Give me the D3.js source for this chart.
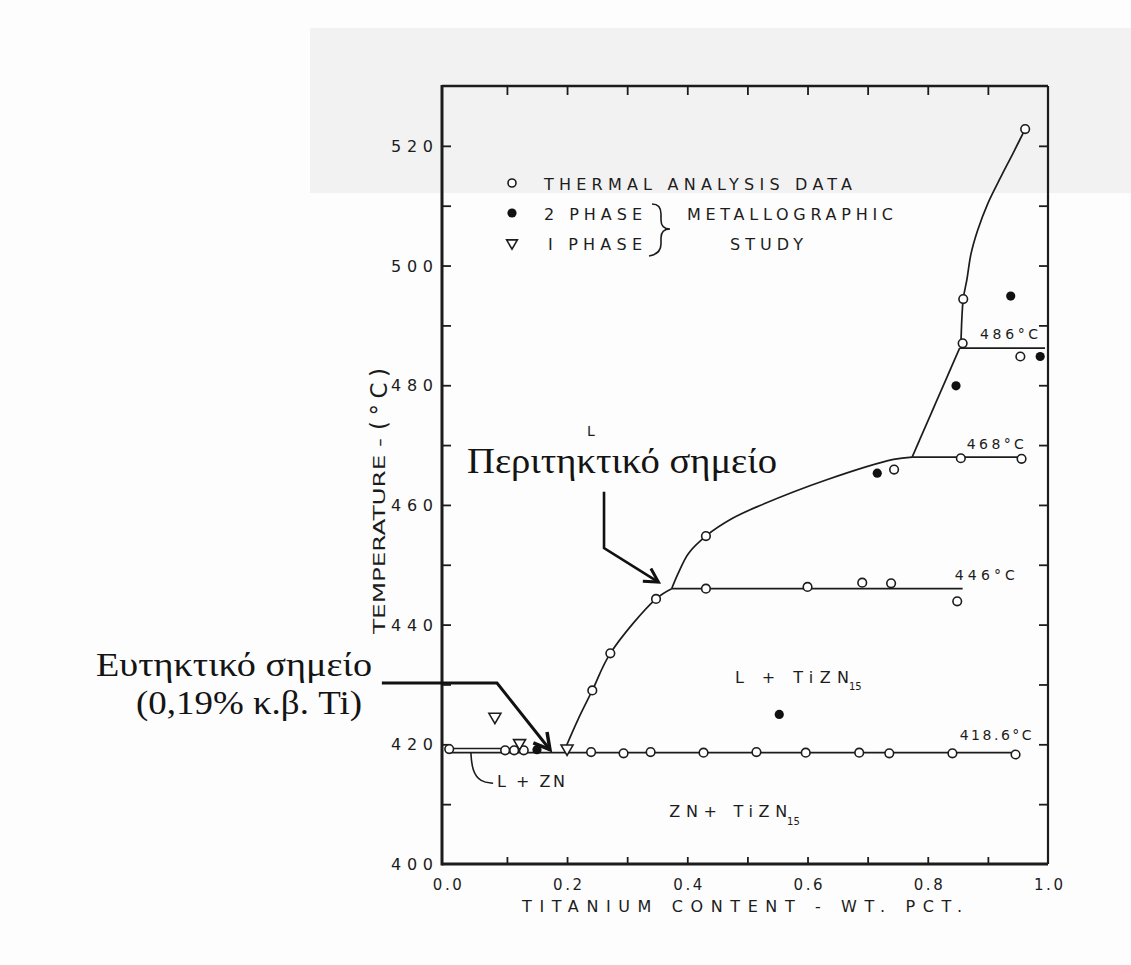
<!DOCTYPE html>
<html>
<head>
<meta charset="utf-8">
<script src="https://cdn.jsdelivr.net/npm/d3@7"></script>
<style>
  body { margin: 0; background: #fdfdfd; }
</style>
</head>
<body>
<div id="chart"></div>
<script>
// ---- data ----
const tempLabels = [400, 420, 440, 460, 480, 500, 520];
const tempTicks = [410, 420, 430, 440, 450, 460, 470, 480, 490, 500, 510, 520];
const tiLabels = [0.0, 0.2, 0.4, 0.6, 0.8, 1.0];
const tiTicks = [0.1, 0.2, 0.3, 0.4, 0.5, 0.6, 0.7, 0.8, 0.9];

// open circles: thermal analysis data
const thermalPoints = [
  [0.004, 419.2], [0.097, 419.0], [0.112, 419.0], [0.128, 419.0],
  [0.240, 418.7], [0.294, 418.5], [0.339, 418.7], [0.427, 418.6],
  [0.515, 418.7], [0.597, 418.6], [0.686, 418.6], [0.736, 418.5],
  [0.841, 418.5], [0.946, 418.3],
  [0.242, 429.0], [0.272, 435.2], [0.348, 444.3], [0.431, 454.8],
  [0.431, 446.0], [0.600, 446.3], [0.691, 447.0], [0.739, 446.9], [0.849, 443.9],
  [0.744, 465.9], [0.855, 467.8], [0.956, 467.7],
  [0.858, 487.0], [0.954, 484.8], [0.859, 494.4], [0.962, 522.8]
];
// filled circles: 2 phase (metallographic)
const twoPhasePoints = [
  [0.150, 419.1], [0.553, 425.0], [0.716, 465.3], [0.847, 479.9], [0.938, 494.9], [0.987, 484.8]
];
// triangles: 1 phase (metallographic)
const onePhasePoints = [[0.080, 424.6], [0.121, 420.2], [0.200, 419.3]];

// phase boundaries
const liquidusLow = [
  [0.197, 419.3], [0.218, 424.1], [0.242, 429.0], [0.272, 435.2], [0.348, 444.3], [0.374, 446.0]
];
const liquidusUpper = [
  [0.374, 446.0], [0.385, 448.6], [0.402, 451.9], [0.431, 454.8], [0.476, 457.8],
  [0.521, 459.9], [0.632, 464.2], [0.743, 467.6], [0.774, 468.0]
];
const liquidusMid = [[0.774, 468.0], [0.853, 486.2]];
const liquidusHigh = [
  [0.855, 486.2], [0.859, 494.4], [0.865, 497.6], [0.872, 502.0], [0.883, 505.9],
  [0.900, 510.4], [0.922, 514.9], [0.942, 518.8], [0.962, 522.8]
];
const zincLiquidus = [[0.0, 419.3], [0.12, 419.3]];
const isotherms = [
  { t: 418.6, from: 0.0, to: 0.946, label: "418.6°C" },
  { t: 446, from: 0.374, to: 0.858, label: "446°C" },
  { t: 468, from: 0.774, to: 0.960, label: "468°C" },
  { t: 486.2, from: 0.853, to: 0.995, label: "486°C" }
];

// ---- layout ----
const width = 1131, height = 965;
const x = d3.scaleLinear().domain([-0.008, 1.0]).range([442, 1048]);
const y = d3.scaleLinear().domain([400, 530]).range([864, 86]);
const ink = "#1c1c1c";
const letterFont = "DejaVu Sans, Liberation Sans, sans-serif";
const greekFont = "Liberation Serif, DejaVu Serif, serif";

const svg = d3.select("#chart").append("svg").attr("width", width).attr("height", height);

// scan background
svg.append("rect").attr("width", width).attr("height", height).attr("fill", "#fdfdfd");
svg.append("rect").attr("x", 310).attr("y", 28).attr("width", width - 310).attr("height", 165).attr("fill", "#f2f2f2");

const line = d3.line().x((d) => x(d[0])).y((d) => y(d[1]));
const smooth = d3.line().x((d) => x(d[0])).y((d) => y(d[1])).curve(d3.curveCatmullRom);

// frame
const [x0, x1] = x.range();
const [yb, yt] = y.range();
svg.append("line").attr("x1", x0).attr("x2", x1).attr("y1", yt).attr("y2", yt).attr("stroke", ink).attr("stroke-width", 2.5);
svg.append("line").attr("x1", x1).attr("x2", x1).attr("y1", yt).attr("y2", yb).attr("stroke", ink).attr("stroke-width", 2.2);
svg.append("line").attr("x1", x0).attr("x2", x0).attr("y1", yt - 1).attr("y2", yb + 1.5).attr("stroke", ink).attr("stroke-width", 3);
svg.append("line").attr("x1", x0).attr("x2", x1).attr("y1", yb).attr("y2", yb).attr("stroke", ink).attr("stroke-width", 3);

// inward ticks via axes
function tickAxis(axis, tx, ty) {
  const g = svg.append("g").attr("transform", `translate(${tx},${ty})`).call(axis);
  g.select(".domain").remove();
  g.selectAll(".tick line").attr("stroke", ink).attr("stroke-width", 1.8);
  g.selectAll(".tick text").remove();
}
tickAxis(d3.axisLeft(y).tickValues(tempTicks).tickSize(-9), x0, 0);
tickAxis(d3.axisRight(y).tickValues(tempTicks).tickSize(-9), x1, 0);
tickAxis(d3.axisTop(x).tickValues(tiTicks).tickSize(-9), 0, yt);
tickAxis(d3.axisBottom(x).tickValues(tiTicks).tickSize(-7), 0, yb);

// tick labels
svg.append("g").selectAll("text").data(tempLabels).join("text")
  .attr("x", x0 - 9).attr("y", (d) => y(d) + 6)
  .attr("text-anchor", "end").attr("font-family", letterFont).attr("font-size", 16)
  .attr("textLength", 42).attr("lengthAdjust", "spacing")
  .attr("fill", ink).text((d) => d);
svg.append("g").selectAll("text").data(tiLabels).join("text")
  .attr("x", (d) => x(d) - 14).attr("y", yb + 26)
  .attr("font-family", letterFont).attr("font-size", 15)
  .attr("textLength", 29).attr("lengthAdjust", "spacing")
  .attr("fill", ink).text((d) => d.toFixed(1));

// axis titles
svg.append("text").attr("x", 742).attr("y", 912).attr("text-anchor", "middle")
  .attr("font-family", letterFont).attr("font-size", 16).attr("fill", ink)
  .attr("textLength", 440).attr("lengthAdjust", "spacing")
  .text("TITANIUM CONTENT - WT. PCT.");
svg.append("text").attr("transform", "translate(385,634) rotate(-90)")
  .attr("font-family", letterFont).attr("font-size", 15).attr("fill", ink)
  .attr("textLength", 196).attr("lengthAdjust", "spacingAndGlyphs")
  .text("TEMPERATURE -");
svg.append("text").attr("transform", "translate(387,430) rotate(-90)")
  .attr("font-family", letterFont).attr("font-size", 23).attr("fill", ink)
  .attr("textLength", 62).attr("lengthAdjust", "spacing")
  .text("(°C)");

// phase boundaries
const boundaries = svg.append("g").attr("fill", "none").attr("stroke", ink).attr("stroke-width", 1.7);
boundaries.append("path").attr("d", smooth(liquidusLow));
boundaries.append("path").attr("d", smooth(liquidusUpper));
boundaries.append("path").attr("d", smooth(liquidusHigh));
boundaries.append("path").attr("d", line(liquidusMid));
boundaries.append("path").attr("d", line(zincLiquidus)).attr("stroke-width", 1.4);
boundaries.selectAll(".iso").data(isotherms).join("path").attr("class", "iso")
  .attr("d", (d) => line([[d.from, d.t], [d.to, d.t]]));

// isotherm labels
const isoLabelPos = { "418.6°C": [0.853, 420.7], "446°C": [0.845, 447.5], "468°C": [0.865, 469.3], "486°C": [0.887, 487.7] };
const isoLabelLen = { "418.6°C": 72, "446°C": 60, "468°C": 57, "486°C": 58 };
svg.append("g").selectAll("text").data(isotherms).join("text")
  .attr("x", (d) => x(isoLabelPos[d.label][0])).attr("y", (d) => y(isoLabelPos[d.label][1]))
  .attr("font-family", letterFont).attr("font-size", 14).attr("fill", ink)
  .attr("textLength", (d) => isoLabelLen[d.label]).attr("lengthAdjust", "spacing")
  .text((d) => d.label);

// data points
const tri = d3.symbol(d3.symbolTriangle, 62);
svg.append("g").selectAll("circle").data(thermalPoints).join("circle")
  .attr("cx", (d) => x(d[0])).attr("cy", (d) => y(d[1])).attr("r", 4.3)
  .attr("fill", "#fff").attr("stroke", ink).attr("stroke-width", 1.6);
svg.append("g").selectAll("circle").data(twoPhasePoints).join("circle")
  .attr("cx", (d) => x(d[0])).attr("cy", (d) => y(d[1])).attr("r", 4.6).attr("fill", "#111");
svg.append("g").selectAll("path").data(onePhasePoints).join("path")
  .attr("d", tri).attr("transform", (d) => `translate(${x(d[0])},${y(d[1])}) rotate(180)`)
  .attr("fill", "#fff").attr("stroke", ink).attr("stroke-width", 1.6);

// region labels
function label(text, px, pt, size, len) {
  const t = svg.append("text").attr("x", x(px)).attr("y", y(pt))
    .attr("font-family", letterFont).attr("font-size", size).attr("fill", ink);
  if (len) t.attr("textLength", len).attr("lengthAdjust", "spacing");
  t.text(text);
  return t;
}
label("L", 0.2332, 471.5, 14);
label("L + TiZN", 0.4794, 430.2, 16, 114);
label("15", 0.669, 429.0, 10);
label("ZN+ TiZN", 0.370, 407.8, 16, 118);
label("15", 0.566, 406.6, 10);
label("L + ZN", 0.0835, 412.9, 16, 68);

// L + ZN leader
svg.append("path").attr("fill", "none").attr("stroke", ink).attr("stroke-width", 1.6)
  .attr("d", d3.line().x((d) => x(d[0])).y((d) => y(d[1])).curve(d3.curveBasis)(
    [[0.040, 418.7], [0.042, 415.6], [0.056, 413.7], [0.077, 413.5]]));

// legend
const lg = svg.append("g");
lg.append("circle").attr("cx", 512).attr("cy", 183).attr("r", 4).attr("fill", "#fff").attr("stroke", ink).attr("stroke-width", 1.6);
lg.append("circle").attr("cx", 512).attr("cy", 213).attr("r", 4.6).attr("fill", "#111");
lg.append("path").attr("d", d3.symbol(d3.symbolTriangle, 50)).attr("transform", "translate(512,243) rotate(180)")
  .attr("fill", "#fff").attr("stroke", ink).attr("stroke-width", 1.6);
const legendText = [
  ["THERMAL ANALYSIS DATA", 544, 190, 308],
  ["2 PHASE", 544, 220, 98],
  ["I PHASE", 548, 250, 94],
  ["METALLOGRAPHIC", 687, 220, 206],
  ["STUDY", 730, 250, 73]
];
lg.selectAll("text").data(legendText).join("text")
  .attr("x", (d) => d[1]).attr("y", (d) => d[2])
  .attr("font-family", letterFont).attr("font-size", 16).attr("fill", ink)
  .attr("textLength", (d) => d[3]).attr("lengthAdjust", "spacing")
  .text((d) => d[0]);
lg.append("path").attr("fill", "none").attr("stroke", ink).attr("stroke-width", 1.6)
  .attr("d", "M652,204 q9,0 9,10 v6 q0,9 9,9 q-9,0 -9,9 v6 q0,10 -12,12");

// annotations (Greek)
const defs = svg.append("defs");
defs.append("marker").attr("id", "head").attr("viewBox", "0 0 12 12").attr("refX", 10).attr("refY", 6)
  .attr("markerWidth", 7).attr("markerHeight", 7).attr("orient", "auto").attr("markerUnits", "strokeWidth")
  .append("path").attr("d", "M1,1 L10,6 L1,11").attr("fill", "none").attr("stroke", "#111").attr("stroke-width", 2);

const annoLine = d3.line().x((d) => x(d[0])).y((d) => y(d[1]));
svg.append("path").attr("fill", "none").attr("stroke", "#111").attr("stroke-width", 2.6)
  .attr("marker-end", "url(#head)")
  .attr("d", annoLine([[0.2615, 462.2], [0.2615, 452.8], [0.352, 447.1]]));
svg.append("path").attr("fill", "none").attr("stroke", "#111").attr("stroke-width", 3)
  .attr("marker-end", "url(#head)")
  .attr("d", annoLine([[-0.108, 430.24], [0.0835, 430.24], [0.1716, 419.1]]));

svg.append("text").attr("x", 467).attr("y", 473)
  .attr("font-family", greekFont).attr("font-size", 35).attr("fill", "#141414")
  .attr("textLength", 310).attr("lengthAdjust", "spacingAndGlyphs")
  .text("Περιτηκτικό σημείο");
svg.append("text").attr("x", 372).attr("y", 676).attr("text-anchor", "end")
  .attr("font-family", greekFont).attr("font-size", 33).attr("fill", "#141414")
  .attr("textLength", 276).attr("lengthAdjust", "spacingAndGlyphs")
  .text("Ευτηκτικό σημείο");
svg.append("text").attr("x", 362).attr("y", 714).attr("text-anchor", "end")
  .attr("font-family", greekFont).attr("font-size", 33).attr("fill", "#141414")
  .attr("textLength", 226).attr("lengthAdjust", "spacingAndGlyphs")
  .text("(0,19% κ.β. Ti)");
</script>
</body>
</html>
